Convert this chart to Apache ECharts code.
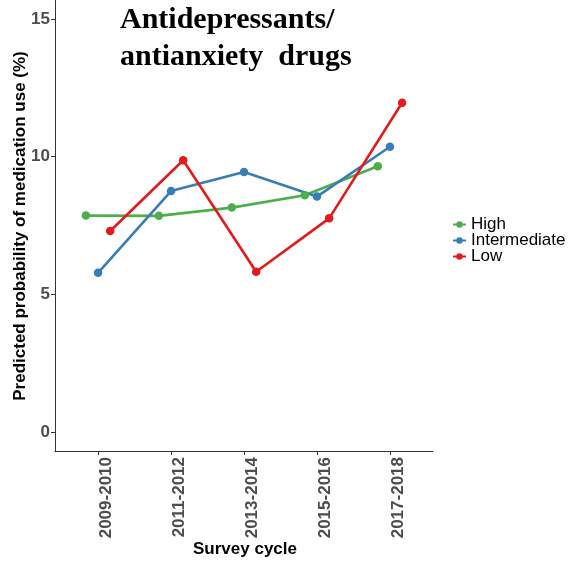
<!DOCTYPE html>
<html>
<head>
<meta charset="utf-8">
<script src="https://cdn.jsdelivr.net/npm/echarts@6/dist/echarts.min.js"></script>
<style>html,body{margin:0;padding:0;background:#fff}#c{width:570px;height:561px}</style>
</head>
<body>
<div id="c"></div>
<script>
const categories = ['2009-2010','2011-2012','2013-2014','2015-2016','2017-2018'];
const seriesNames = ['High','Intermediate','Low'];
const highValues = [7.86, 7.85, 8.15, 8.60, 9.65];
const intermediateValues = [5.78, 8.75, 9.44, 8.55, 10.36];
const lowValues = [7.30, 9.87, 5.82, 7.76, 11.96];
const yTicks = [0, 5, 10, 15];
const colors = ['#4DAF4A', '#377EB8', '#E41A1C'];
const dodge = [-1/6, 0, 1/6];

const valueSets = [highValues, intermediateValues, lowValues];
const chart = echarts.init(document.getElementById('c'), null, {renderer: 'canvas'});
const tickIdx = categories.map((_, i) => i);

chart.setOption({
  animation: false,
  backgroundColor: '#fff',
  grid: {left: 55, right: 137, top: 0, bottom: 110, containLabel: false},
  xAxis: {
    type: 'value', min: -0.59, max: 4.59,
    splitLine: {show: false},
    axisLine: {show: true, onZero: false, lineStyle: {color: '#333', width: 1}},
    axisTick: {show: true, customValues: tickIdx, length: 4, lineStyle: {color: '#333'}},
    axisLabel: {
      customValues: tickIdx, rotate: 90, margin: 6, verticalAlign: 'top',
      formatter: v => categories[Math.round(v)] || '',
      color: '#4d4d4d', fontSize: 17, fontWeight: 'bold', fontFamily: 'Liberation Sans, Arial'
    }
  },
  yAxis: {
    type: 'value', min: -0.69, max: 15.69,
    splitLine: {show: false},
    axisLine: {show: true, onZero: false, lineStyle: {color: '#333', width: 1}},
    axisTick: {show: true, customValues: yTicks, length: 4, lineStyle: {color: '#333'}},
    axisLabel: {
      customValues: yTicks, margin: 5,
      color: '#4d4d4d', fontSize: 17, fontWeight: 'bold', fontFamily: 'Liberation Sans, Arial'
    }
  },
  legend: {
    orient: 'vertical', left: 447, top: 211,
    itemWidth: 13, itemHeight: 8, itemGap: -1,
    textStyle: {fontSize: 17, lineHeight: 16, color: '#000', fontFamily: 'Liberation Sans, Arial'},
    data: seriesNames
  },
  series: seriesNames.map((name, s) => ({
    name: name, type: 'line',
    data: valueSets[s].map((v, i) => [i + dodge[s], v]),
    symbol: 'circle', symbolSize: 8.5,
    color: colors[s],
    lineStyle: {width: 2.6, color: colors[s]},
    itemStyle: {color: colors[s]}
  })),
  graphic: [
    {type: 'text', left: 120, top: 5, style: {text: 'Antidepressants/', font: 'bold 30px "Liberation Serif", "Times New Roman", serif', fill: '#000'}},
    {type: 'text', left: 120, top: 42, style: {text: 'antianxiety  drugs', font: 'bold 30px "Liberation Serif", "Times New Roman", serif', fill: '#000'}},
    {type: 'text', x: 245, y: 549, style: {text: 'Survey cycle', font: 'bold 17px "Liberation Sans", Arial', fill: '#000', align: 'center', verticalAlign: 'middle'}},
    {type: 'text', x: 20, y: 226, rotation: Math.PI/2, style: {text: 'Predicted probability of medication use (%)', font: 'bold 17px "Liberation Sans", Arial', fill: '#000', align: 'center', verticalAlign: 'middle'}}
  ]
});
</script>
</body>
</html>
